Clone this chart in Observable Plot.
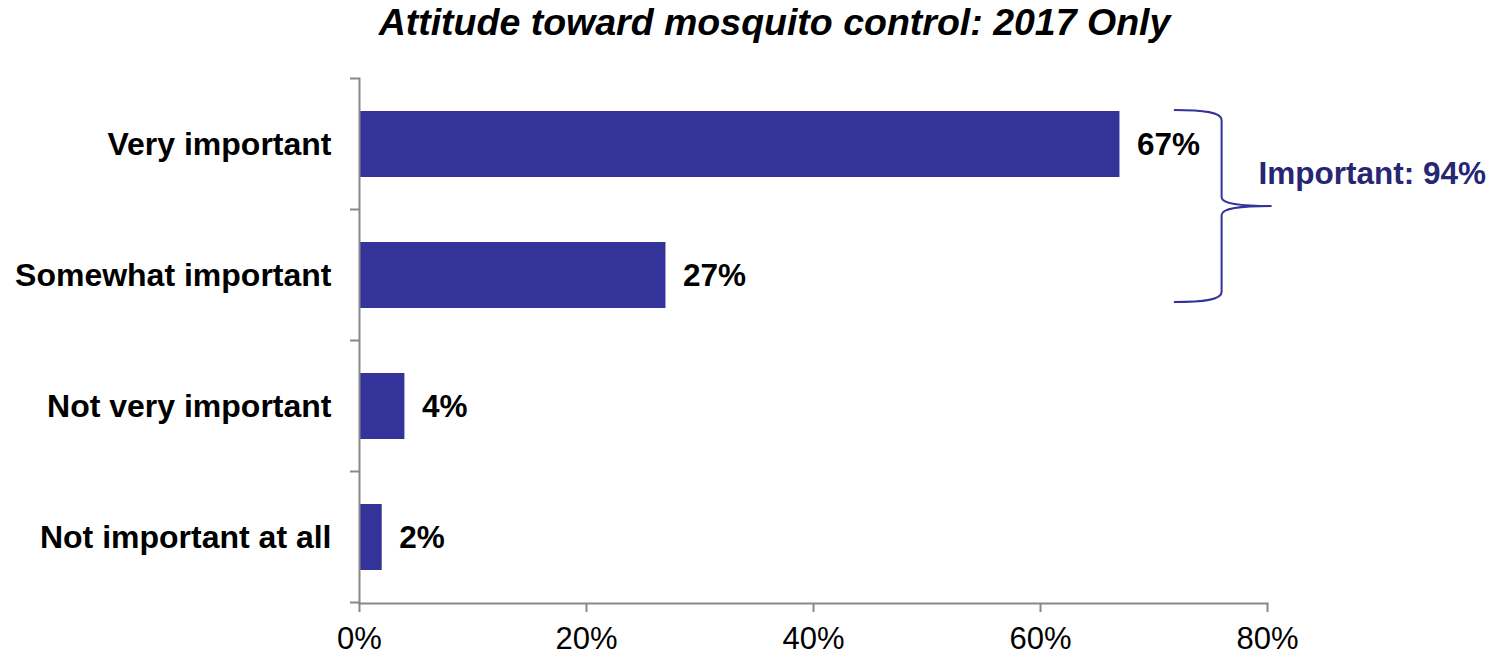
<!DOCTYPE html>
<html>
<head>
<meta charset="utf-8">
<script src="https://cdn.jsdelivr.net/npm/d3@7"></script>
<script src="https://cdn.jsdelivr.net/npm/@observablehq/plot@0.6"></script>
<style>
  body { margin: 0; background: #fff; font-family: "Liberation Sans", Arial, sans-serif; }
  #title { height: 52px; box-sizing: border-box; padding-top: 2px; padding-left: 49px; text-align: center;
           font: italic bold 37.5px "Liberation Sans", Arial, sans-serif; line-height: 41px; color: #000; white-space: nowrap; }
</style>
</head>
<body>
<div id="title">Attitude toward mosquito control: 2017 Only</div>
<div id="chart"></div>
<script>
const categories = ["Very important", "Somewhat important", "Not very important", "Not important at all"];
const values = [67, 27, 4, 2];
const xTicks = [0, 20, 40, 60, 80];
const bracketLabel = "Important: 94%";
const bracketCategories = ["Very important", "Somewhat important"];

const data = categories.map((c, i) => ({category: c, value: values[i]}));
const font = '"Liberation Sans", Arial, sans-serif';
const pct = d => d + "%";

const chart = Plot.plot({
  width: 1500,
  height: 602,
  marginTop: 26,
  marginBottom: 51,
  marginLeft: 359,
  marginRight: 233,
  style: {fontFamily: font, fontSize: "30px", color: "black", background: "white", overflow: "visible"},
  x: {domain: [0, 80], ticks: xTicks, tickFormat: pct, label: null},
  y: {domain: categories, paddingInner: 0.5, paddingOuter: 0.25, label: null},
  marks: [
    Plot.barX(data, {x: "value", y: "category", fill: "#333399"}),
    Plot.text(data, {x: "value", y: "category", text: d => pct(d.value), textAnchor: "start", dx: 17,
                     fontSize: 31.5, fontWeight: "bold", fill: "black"}),
    Plot.axisX({ticks: xTicks, tickFormat: pct, tickSize: 9, tickPadding: 14, stroke: "#888", strokeWidth: 2,
                fill: "black", fontSize: 31, label: null}),
    Plot.axisY({tickSize: 0, tickPadding: 28, fontSize: 32, fontWeight: "bold", fill: "black", label: null}),
    Plot.frame({anchor: "bottom", stroke: "#888", strokeWidth: 2}),
    Plot.frame({anchor: "left", stroke: "#888", strokeWidth: 2})
  ]
});

document.getElementById("chart").appendChild(chart);

// category boundary ticks on the y axis (Excel style)
const ys = chart.scale("y");
const xs = chart.scale("x");
const svg = d3.select(chart);
const gap = (ys.step - ys.bandwidth) / 2;
const bounds = categories.map(c => ys.apply(c) - gap);
bounds.push(ys.apply(categories[categories.length - 1]) + ys.bandwidth + gap);
const x0 = xs.apply(0);
svg.append("g").selectAll("line").data(bounds).join("line")
  .attr("x1", x0 - 9).attr("x2", x0).attr("y1", d => d).attr("y2", d => d)
  .attr("stroke", "#888").attr("stroke-width", 2);

// curly bracket grouping the two "important" answers
const bTop = ys.apply(bracketCategories[0]) - 1;
const bBot = ys.apply(bracketCategories[1]) + ys.bandwidth - 6;
const bMid = (bTop + bBot) / 2;
const xl = xs.apply(71.8), xv = xs.apply(76), xt = xs.apply(80.4);
const path = `M${xl},${bTop} C${xv - 18},${bTop} ${xv},${bTop + 2} ${xv},${bTop + 10}
  L${xv},${bMid - 9} C${xv},${bMid - 2} ${xv + 18},${bMid} ${xt},${bMid}
  C${xv + 18},${bMid} ${xv},${bMid + 2} ${xv},${bMid + 9}
  L${xv},${bBot - 10} C${xv},${bBot - 2} ${xv - 18},${bBot} ${xl},${bBot}`;
svg.append("path").attr("d", path).attr("fill", "none").attr("stroke", "#333399").attr("stroke-width", 2);
svg.append("text").text(bracketLabel)
  .attr("x", xt - 13).attr("y", bMid - 33).attr("dy", "0.35em").attr("text-anchor", "start")
  .attr("font-family", font).attr("font-size", 31.5).attr("font-weight", "bold").attr("fill", "#262673");
</script>
</body>
</html>
